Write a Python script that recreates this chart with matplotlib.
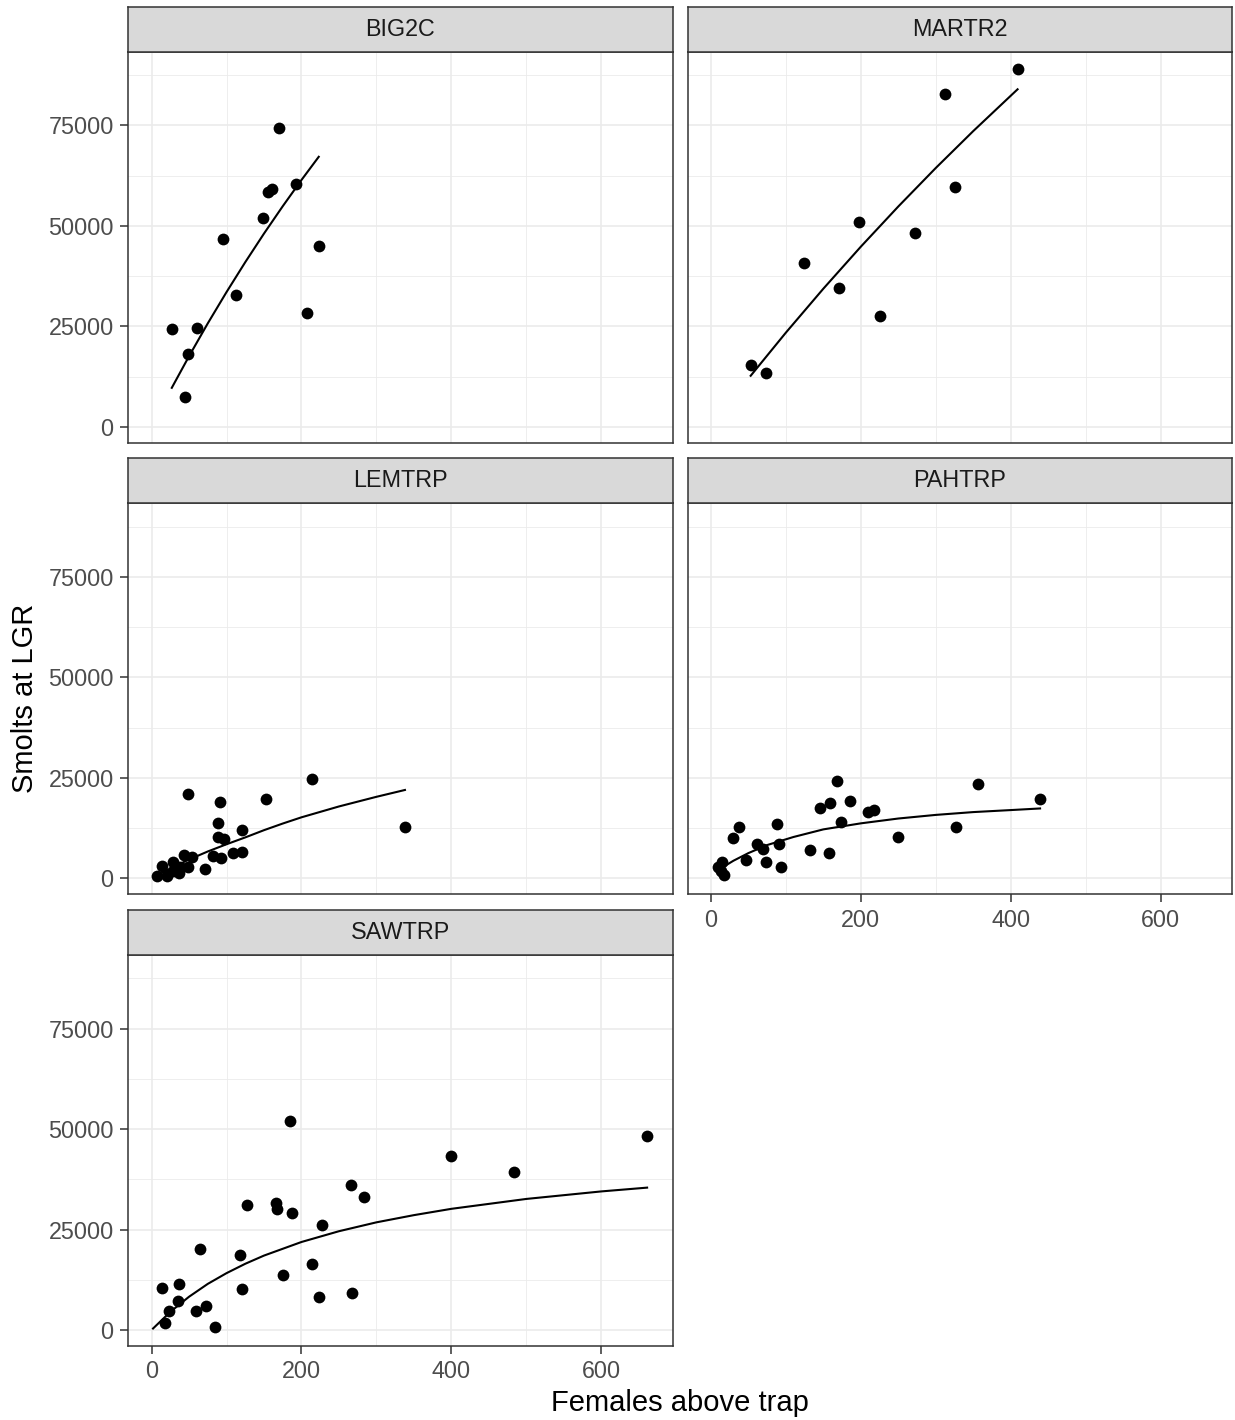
import matplotlib
matplotlib.use("Agg")
import matplotlib.pyplot as plt

plt.rcParams['font.family'] = ['Liberation Sans', 'DejaVu Sans']

# ---- data ----
big2c_females = [170, 193, 156, 161, 148, 95, 223, 112, 208, 27, 60, 48, 44]
big2c_smolts = [74400, 60400, 58400, 59100, 52000, 46700, 45000, 32900, 28200, 24400, 24500, 18200, 7500]
big2c_fit_x = [27, 50, 75, 100, 125, 150, 175, 200, 223]
big2c_fit_y = [9700, 17560, 25730, 33510, 40950, 48070, 54870, 61400, 67160]

martr2_females = [409, 312, 325, 198, 272, 124, 171, 226, 53, 74]
martr2_smolts = [88900, 82800, 59700, 50900, 48200, 40800, 34600, 27500, 15500, 13300]
martr2_fit_x = [53, 100, 150, 200, 250, 300, 350, 409]
martr2_fit_y = [12700, 23440, 34370, 44820, 54820, 64400, 73580, 83950]

lemtrp_females = [214, 49, 91, 153, 89, 338, 121, 89, 96, 121, 109, 82, 92, 43, 54, 71, 29, 38, 49, 14, 7, 20, 29, 36]
lemtrp_smolts = [24700, 20900, 19100, 19800, 13700, 12750, 12000, 10300, 9900, 6500, 6300, 5700, 5200, 5900, 5300,
                 2400, 4000, 2800, 2800, 3100, 700, 700, 1900, 1400]
lemtrp_fit_x = [7, 25, 50, 75, 100, 125, 150, 175, 200, 250, 300, 338]
lemtrp_fit_y = [700, 2450, 4700, 6700, 8500, 10200, 12000, 13650, 15200, 17900, 20300, 22000]

pahtrp_females = [168, 356, 439, 186, 159, 146, 209, 218, 174, 38, 88, 327, 30, 250, 61, 70, 91, 132, 157, 47, 73,
                  93, 15, 10, 17, 13]
pahtrp_smolts = [24150, 23500, 19700, 19300, 18800, 17450, 16600, 16950, 14100, 12800, 13500, 12900, 10060, 10400,
                 8650, 7400, 8480, 6970, 6290, 4630, 4200, 2770, 4030, 2770, 930, 1800]
pahtrp_fit_x = [15, 30, 50, 75, 110, 150, 200, 250, 300, 350, 400, 439]
pahtrp_fit_y = [2700, 4400, 6300, 8300, 10300, 12200, 13700, 14900, 15800, 16500, 17000, 17400]

sawtrp_females = [185, 266, 283, 127, 166, 168, 188, 227, 64, 118, 214, 176, 121, 224, 267, 14, 36, 35, 23, 18, 59,
                  73, 85, 399, 483, 661]
sawtrp_smolts = [52000, 36000, 33050, 31000, 31700, 30100, 29200, 26250, 20200, 18800, 16400, 13600, 10200, 8300,
                 9300, 10600, 11500, 7200, 4800, 1700, 4800, 6000, 900, 43200, 39300, 48200]
sawtrp_fit_x = [2, 25, 50, 75, 100, 125, 150, 200, 250, 300, 350, 400, 500, 600, 661]
sawtrp_fit_y = [400, 4540, 8300, 11500, 14170, 16500, 18540, 21920, 24600, 26810, 28600, 30170, 32630, 34500, 35440]

x_major = [0, 200, 400, 600]
x_minor = [100, 300, 500]
y_major = [0, 25000, 50000, 75000]
y_minor = [12500, 37500, 62500, 87500]

# name, row, col, xlabels, ylabels, data
panels = [
    ("BIG2C", 0, 0, False, True, big2c_females, big2c_smolts, big2c_fit_x, big2c_fit_y),
    ("MARTR2", 0, 1, False, False, martr2_females, martr2_smolts, martr2_fit_x, martr2_fit_y),
    ("LEMTRP", 1, 0, False, True, lemtrp_females, lemtrp_smolts, lemtrp_fit_x, lemtrp_fit_y),
    ("PAHTRP", 1, 1, True, False, pahtrp_females, pahtrp_smolts, pahtrp_fit_x, pahtrp_fit_y),
    ("SAWTRP", 2, 0, True, True, sawtrp_females, sawtrp_smolts, sawtrp_fit_x, sawtrp_fit_y),
]

# ---- layout in pixels ----
W, H = 1235, 1420
col_left = [128.3, 687.7]
col_w = 544.3
row_top = [51.7, 503.3, 955.0]
panel_h = 390.8
strip_h = 45.0

border = '#333333'
grid_c = '#EBEBEB'
tick_c = '#4D4D4D'

fig = plt.figure(figsize=(W / 100, H / 100), dpi=100)

for name, r, c, xlab, ylab, fx, fy, lx, ly in panels:
    left = col_left[c]
    top = row_top[r]
    ax = fig.add_axes([left / W, 1 - (top + panel_h) / H, col_w / W, panel_h / H])
    ax.set_axisbelow(True)
    ax.scatter(fx, fy, s=72, color='black', linewidths=0, zorder=3)
    ax.plot(lx, ly, color='black', lw=1.5, zorder=4, solid_joinstyle='round')
    ax.set_xlim(-31, 695)
    ax.set_ylim(-3900, 93300)
    ax.set_xticks(x_major)
    ax.set_xticks(x_minor, minor=True)
    ax.set_yticks(y_major)
    ax.set_yticks(y_minor, minor=True)
    ax.grid(which='major', color=grid_c, lw=1.2)
    ax.grid(which='minor', color=grid_c, lw=0.6)
    ax.tick_params(which='minor', length=0)
    ax.tick_params(which='major', length=5.5, width=1.1, color=border, labelcolor=tick_c,
                   labelsize=16.8, pad=5)
    if not xlab:
        ax.tick_params(axis='x', which='major', length=0, labelbottom=False)
    if not ylab:
        ax.tick_params(axis='y', which='major', length=0, labelleft=False)
    for s in ax.spines.values():
        s.set_color(border)
        s.set_linewidth(1.1)

    # facet strip
    sax = fig.add_axes([left / W, 1 - top / H, col_w / W, strip_h / H])
    sax.set_facecolor('#D9D9D9')
    sax.set_xticks([])
    sax.set_yticks([])
    for s in sax.spines.values():
        s.set_color(border)
        s.set_linewidth(1.1)
    sax.text(0.5, 0.5, name, ha='center', va='center', fontsize=16.8, color='#1A1A1A',
             transform=sax.transAxes)

fig.text(680 / W, 1 - 1403 / H, "Females above trap", ha='center', va='center', fontsize=21)
fig.text(25 / W, 1 - 698 / H, "Smolts at LGR", ha='center', va='center', rotation=90, fontsize=21)

fig.savefig("out.png", dpi=100)
